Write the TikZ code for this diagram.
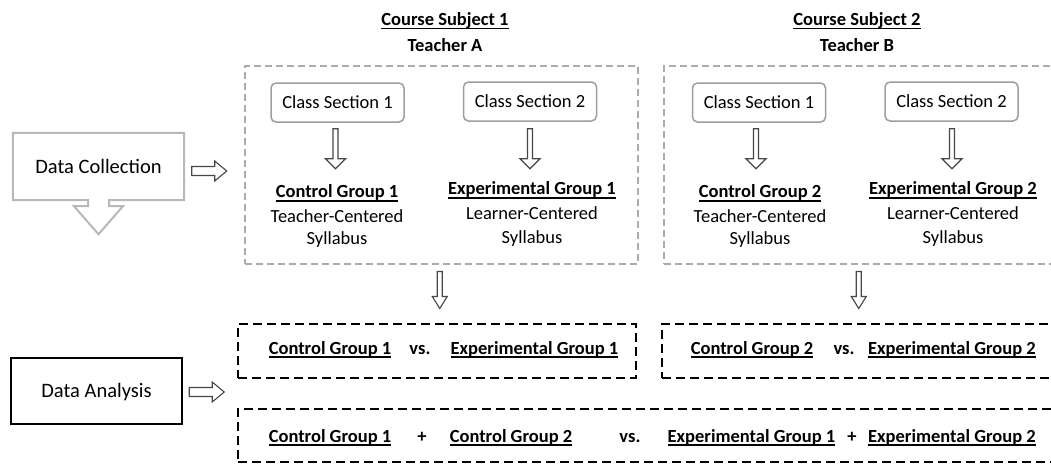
\documentclass[tikz,border=0pt]{standalone}
\usepackage{fontspec}
\setmainfont{Carlito}
\usetikzlibrary{calc}
\newcommand\myul[1]{\setbox0\hbox{#1}\rlap{\vrule height -2.2pt depth 4pt width \wd0}\box0}
\tikzset{
  txt/.style={anchor=base, inner sep=0pt, font=\fontsize{18.5}{22}\selectfont},
  btxt/.style={anchor=base, inner sep=0pt, font=\fontsize{18.5}{22}\selectfont\bfseries},
  csbox/.style={draw=black!38, line width=1.5pt, rounded corners=5pt, minimum width=133pt,
    minimum height=39pt, inner sep=0pt, text height=11.9pt, text depth=0pt,
    font=\fontsize{18.5}{22}\selectfont},
  gdash/.style={draw=black!33, line width=1.5pt, dash pattern=on 7pt off 4pt, inner sep=0pt},
  bdash/.style={draw=black, line width=2.4pt, dash pattern=on 9pt off 5pt, inner sep=0pt},
  hollow/.style={draw=black!72, line width=1.1pt, fill=white, line join=miter},
  callout/.style={draw=black!28, line width=2pt, line join=miter},
  pics/dnarr/.style n args={4}{code={
    \draw[hollow] (-#1,0) -- (#1,0) -- (#1,#4-#3) -- (#2,#4-#3) -- (0,#4)
      -- (-#2,#4-#3) -- (-#1,#4-#3) -- cycle;}},
  pics/rtarr/.style n args={4}{code={
    \draw[hollow] (0,-#1) -- (#4-#3,-#1) -- (#4-#3,-#2) -- (#4,0)
      -- (#4-#3,#2) -- (#4-#3,#1) -- (0,#1) -- cycle;}}
}
\begin{document}
\begin{tikzpicture}[x=1pt,y=-1pt]
\useasboundingbox (0,0) rectangle (1051,463);
\clip (0,0) rectangle (1051,463);
\fill[white] (0,0) rectangle (1051,463);

% headings
\node[btxt] (cs1t) at (445,25.3) {\myul{Course Subject 1}};
\node[btxt] (ta) at (445,51.3) {Teacher A};
\node[btxt] (cs2t) at (857,25.3) {\myul{Course Subject 2}};
\node[btxt] (tb) at (857,51.3) {Teacher B};

% data collection callout
\node[inner sep=0pt, minimum width=171pt, minimum height=67pt, text height=13.2pt, text depth=0pt,
  font=\fontsize{20.5}{24}\selectfont] (dc) at (98.5,166.5) {Data Collection};
\draw[callout] (dc.north west) -- (dc.north east) -- (dc.south east)
  -- ($(dc.south)+(10.5,0)$) -- ($(dc.south)+(10.5,6)$) -- ($(dc.south)+(24.5,6)$)
  -- ($(dc.south)+(0,34)$) -- ($(dc.south)+(-24.5,6)$) -- ($(dc.south)+(-10.5,6)$)
  -- ($(dc.south)+(-10.5,0)$) -- (dc.south west) -- cycle;

% gray dashed subject boxes
\node[gdash, anchor=north west, minimum width=393pt, minimum height=198pt] (sub1) at (244,65) {};
\node[gdash, anchor=north west, minimum width=402pt, minimum height=198pt] (sub2) at (663,65) {};

\pic at ($(dc.east)+(7.5,4.5)$) {rtarr={4.5}{10}{12}{35}};

% class sections
\node[csbox] (cs11) at (337.5,102.5) {Class Section 1};
\node[csbox] (cs12) at (530,101.5) {Class Section 2};
\node[csbox] (cs21) at (759,102.5) {Class Section 1};
\node[csbox] (cs22) at (951.5,101.5) {Class Section 2};

\pic at ($(cs11.south)+(-2,6)$) {dnarr={2.5}{10}{10}{40}};
\pic at ($(cs12.south)+(0,7)$) {dnarr={2.5}{10}{10}{40}};
\pic at ($(cs21.south)+(-3,6)$) {dnarr={2.5}{10}{10}{40}};
\pic at ($(cs22.south)+(0.5,7)$) {dnarr={2.5}{10}{10}{40}};

% groups
\node[btxt] (cg1) at (337,197.7) {\myul{Control Group 1}};
\node[txt] (cg1a) at (337,222.7) {Teacher-Centered};
\node[txt] (cg1b) at (337,244.5) {Syllabus};
\node[btxt] (eg1) at (532,194.7) {\myul{Experimental Group 1}};
\node[txt] (eg1a) at (532,219.3) {Learner-Centered};
\node[txt] (eg1b) at (532,243) {Syllabus};
\node[btxt] (cg2) at (760,197.7) {\myul{Control Group 2}};
\node[txt] (cg2a) at (760,222.7) {Teacher-Centered};
\node[txt] (cg2b) at (760,244.5) {Syllabus};
\node[btxt] (eg2) at (953,194.7) {\myul{Experimental Group 2}};
\node[txt] (eg2a) at (953,219.3) {Learner-Centered};
\node[txt] (eg2b) at (953,243) {Syllabus};

% arrows to analysis
\pic at ($(sub1.south)+(-1.5,7)$) {dnarr={2.5}{7.5}{12}{37}};
\pic at ($(sub2.south)+(-6,7)$) {dnarr={2.5}{7.5}{12}{37}};

% data analysis
\node[draw=black, line width=2.4pt, inner sep=0pt, minimum width=171pt, minimum height=66pt,
  text height=13.2pt, text depth=0pt, font=\fontsize{20.5}{24}\selectfont] (da) at (96.5,391) {Data Analysis};
\pic at ($(da.east)+(6,1)$) {rtarr={4.5}{10}{12}{35}};

% black dashed boxes
\node[bdash, anchor=north west, minimum width=398pt, minimum height=54pt] (r1a) at (237,323) {};
\node[bdash, anchor=north west, minimum width=404pt, minimum height=54pt] (r1b) at (661,323) {};
\node[bdash, anchor=north west, minimum width=828pt, minimum height=53pt] (r2) at (237,408) {};

\node[btxt] (a1) at (330,354) {\myul{Control Group 1}};
\node[btxt] (a2) at (420,354) {vs.};
\node[btxt] (a3) at (534.5,354) {\myul{Experimental Group 1}};
\node[btxt] (b1) at (752,354) {\myul{Control Group 2}};
\node[btxt] (b2) at (844,354) {vs.};
\node[btxt] (b3) at (952,354) {\myul{Experimental Group 2}};

\node[btxt] (c1) at (330,442) {\myul{Control Group 1}};
\node[btxt] (c2) at (422,442) {+};
\node[btxt] (c3) at (511,442) {\myul{Control Group 2}};
\node[btxt] (c4) at (630,442) {vs.};
\node[btxt] (c5) at (751.5,442) {\myul{Experimental Group 1}};
\node[btxt] (c6) at (852,442) {+};
\node[btxt] (c7) at (952,442) {\myul{Experimental Group 2}};
\end{tikzpicture}
\end{document}
